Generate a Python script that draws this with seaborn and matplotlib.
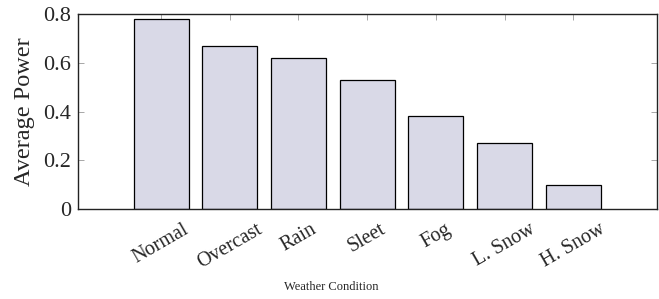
import matplotlib
matplotlib.use("Agg")
import matplotlib.pyplot as plt
import seaborn as sns
import pandas as pd

conditions = ["Normal", "Overcast", "Rain", "Sleet", "Fog", "L. Snow", "H. Snow"]
avg_power = [0.78, 0.67, 0.62, 0.53, 0.38, 0.27, 0.10]

df = pd.DataFrame({"condition": conditions, "power": avg_power})

sns.set_style("ticks")
plt.rcParams["font.family"] = ["Liberation Serif", "DejaVu Serif"]

fig = plt.figure(figsize=(6.59, 2.99), dpi=100)
ax = fig.add_axes([0.1184, 0.301, 0.9970 - 0.1184, 0.953 - 0.301])

sns.barplot(data=df, x="condition", y="power", color="#d9d9e7",
            saturation=1, width=0.8, edgecolor="black", linewidth=0.9, ax=ax, zorder=3)

# pgfplots-like margins around the bar group
ax.set_xlim(-1.21, 7.22)
ax.set_ylim(0, 0.8)
ax.set_yticks([0, 0.2, 0.4, 0.6, 0.8])
ax.set_yticklabels(["0", "0.2", "0.4", "0.6", "0.8"])

for s in ax.spines.values():
    s.set_visible(True)
    s.set_color("#222222")
    s.set_linewidth(1.0)
    s.set_zorder(4)

ax.tick_params(axis="y", which="both", direction="in", left=True, right=True,
               length=4.5, width=0.6, color="#999999", labelsize=16, pad=5)
ax.tick_params(axis="x", which="both", direction="in", top=True, bottom=False,
               length=4.5, width=0.6, color="#999999", labelsize=14.5, pad=8)
for lbl in ax.get_xticklabels():
    lbl.set_rotation(30)
    lbl.set_ha("center")
    lbl.set_va("top")

ax.set_ylabel("Average Power", fontsize=17.5, labelpad=6)
ax.set_xlabel("Weather Condition", fontsize=9)
ax.xaxis.set_label_coords(0.437, -0.37)
ax.xaxis.label.set_va("top")

fig.savefig("out.png", dpi=100)
